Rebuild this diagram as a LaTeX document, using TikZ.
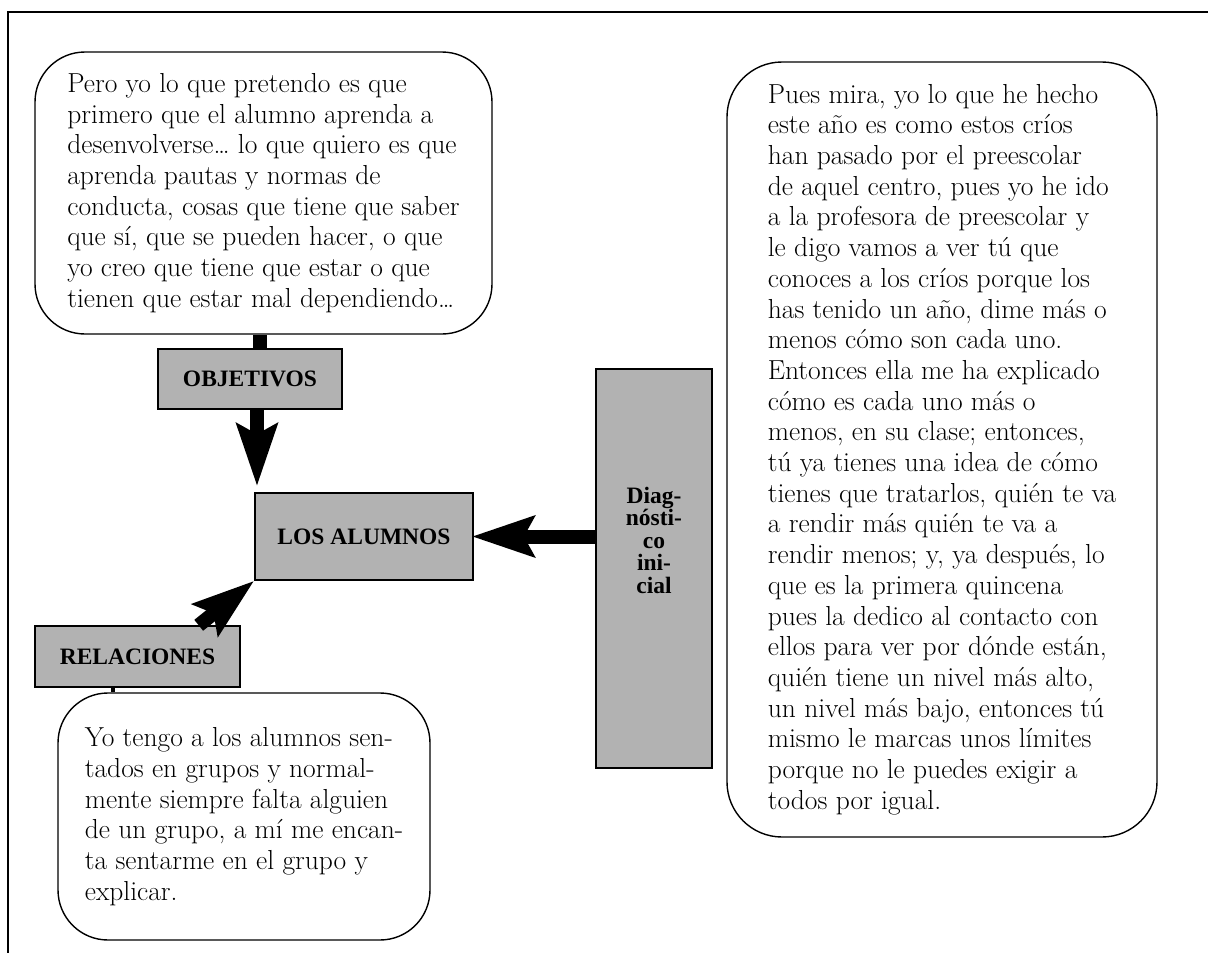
\documentclass[tikz,border=0pt]{standalone}
\usepackage{fontspec}
\newfontfamily\labelfont{Liberation Serif}
\usetikzlibrary{arrows.meta}
\tikzset{
  talk/.style={draw, line width=1.4pt, rounded corners=55pt, align=left, inner sep=0pt,
    font=\fontsize{27.5}{30.7}\selectfont},
  tag/.style={draw, line width=1.4pt, fill=black!30, inner sep=0pt,
    font=\labelfont\bfseries\fontsize{23.5}{23.5}\selectfont},
  tagtext/.style={align=center, font=\labelfont\bfseries\fontsize{23.5}{22.5}\selectfont},
  bigarrow/.style={line width=14pt, -{Stealth[length=62pt,width=40pt,inset=10pt]}},
}
\begin{document}
\begin{tikzpicture}[x=1pt,y=-1pt]
\useasboundingbox (0,0) rectangle (1208,953);
\draw[line width=1.4pt] (8,953) -- (8,12) -- (1208,12);
\node[talk, minimum width=457pt, minimum height=282pt, rounded corners=50pt] (talk1) at (263.5,193)
  {Pero yo lo que pretendo es que\\
   primero que el alumno aprenda a\\
   desenvolverse\ldots{} lo que quiero es que\\
   aprenda pautas y normas de\\
   conducta, cosas que tiene que saber\\
   que sí, que se pueden hacer, o que\\
   yo creo que tiene que estar o que\\
   tienen que estar mal dependiendo\ldots};
\node[talk, minimum width=430pt, minimum height=775pt] (talk2) at (942,449.5)
  {Pues mira, yo lo que he hecho\\
   este año es como estos críos\\
   han pasado por el preescolar\\
   de aquel centro, pues yo he ido\\
   a la profesora de preescolar y\\
   le digo vamos a ver tú que\\
   conoces a los críos porque los\\
   has tenido un año, dime más o\\
   menos cómo son cada uno.\\
   Entonces ella me ha explicado\\
   cómo es cada uno más o\\
   menos, en su clase; entonces,\\
   tú ya tienes una idea de cómo\\
   tienes que tratarlos, quién te va\\
   a rendir más quién te va a\\
   rendir menos; y, ya después, lo\\
   que es la primera quincena\\
   pues la dedico al contacto con\\
   ellos para ver por dónde están,\\
   quién tiene un nivel más alto,\\
   un nivel más bajo, entonces tú\\
   mismo le marcas unos límites\\
   porque no le puedes exigir a\\
   todos por igual.};
\node[talk, minimum width=372pt, minimum height=247pt, rounded corners=50pt] (talk3) at (244,816.5)
  {Yo tengo a los alumnos sen-\\
   tados en grupos y normal-\\
   mente siempre falta alguien\\
   de un grupo, a mí me encan-\\
   ta sentarme en el grupo y\\
   explicar.};
\node[tag, minimum width=184pt, minimum height=60pt] (objetivos) at (250,379) {OBJETIVOS};
\node[tag, minimum width=218pt, minimum height=87pt] (alumnos) at (364,536.5) {LOS ALUMNOS};
\node[tag, minimum width=205pt, minimum height=61pt] (relaciones) at (137.5,656.5) {RELACIONES};
\node[tag, minimum width=116pt, minimum height=399pt] (diag) at (654,568.5) {};
\node[tagtext] (diagtext) at (654,540) {Diag-\\nósti-\\co\\ini-\\cial};
\coordinate (o1) at ([xshift=10pt]objetivos.north);
\coordinate (o2) at ([xshift=7pt]objetivos.south);
\coordinate (r1) at ([xshift=-25pt]relaciones.south);
\draw[line width=14pt] (o1) -- (o1 |- talk1.south);
\draw[bigarrow, shorten >=6pt] (o2) -- (o2 |- alumnos.north);
\draw[bigarrow, shorten >=-2pt] (diag.west |- alumnos.east) -- (alumnos.east);
\draw[bigarrow] ([xshift=-42pt]relaciones.north east) -- (alumnos.south west);
\draw[line width=4pt] (r1) -- (r1 |- talk3.north);
\end{tikzpicture}
\end{document}
